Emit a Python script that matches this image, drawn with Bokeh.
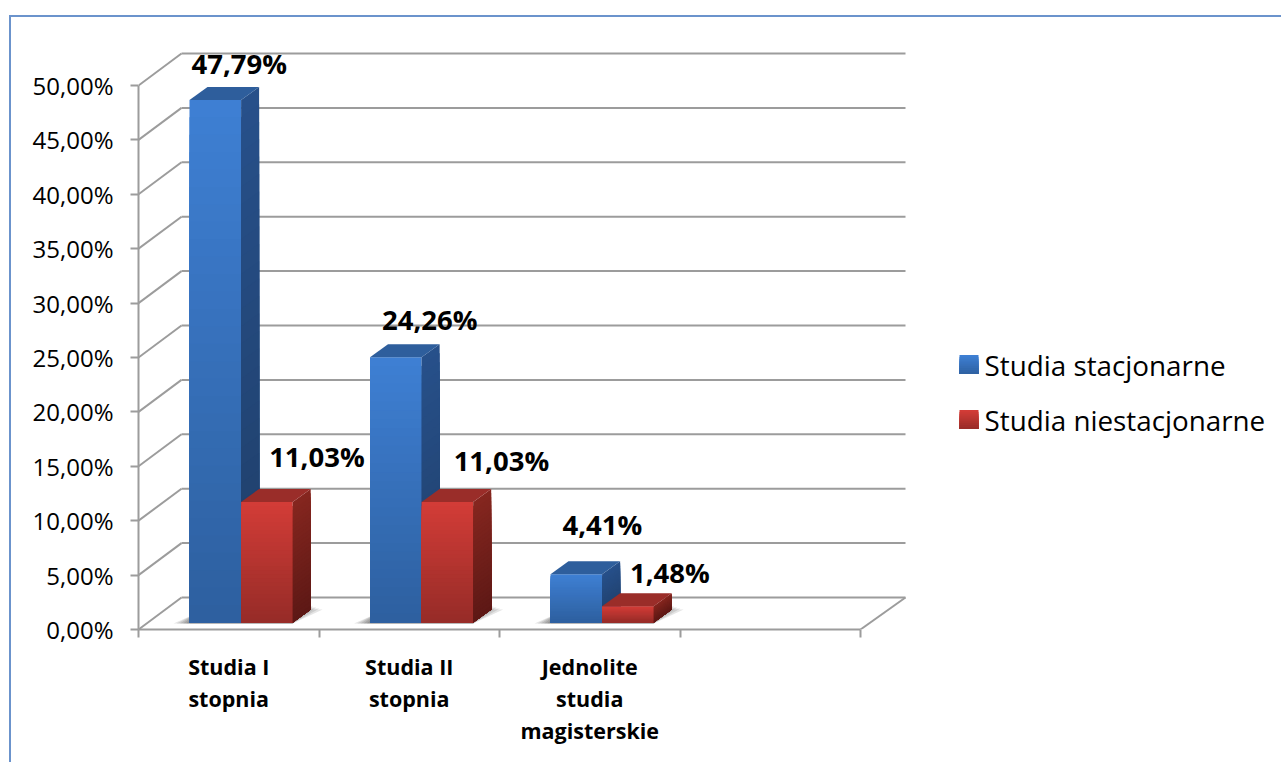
from bokeh.plotting import figure
from bokeh.models import Range1d, LinearAxis, FixedTicker
from bokeh.core.properties import value
from bokeh.embed import file_html
from bokeh.resources import INLINE

categories = ["Studia I\nstopnia", "Studia II\nstopnia", "Jednolite\nstudia\nmagisterskie"]
series_names = ["Studia stacjonarne", "Studia niestacjonarne"]
stacjonarne = [47.79, 24.26, 4.41]
niestacjonarne = [11.03, 11.03, 1.48]
y_ticks = [0, 5, 10, 15, 20, 25, 30, 35, 40, 45, 50]
y_tick_labels = ["0,00%", "5,00%", "10,00%", "15,00%", "20,00%", "25,00%", "30,00%", "35,00%", "40,00%", "45,00%", "50,00%"]
value_labels = [["47,79%", "24,26%", "4,41%"], ["11,03%", "11,03%", "1,48%"]]

# layout (pixels)
W, H = 1270, 745
FL, FB = 127, 133          # frame left / bottom margin
FW, FH = W - FL, H - FB
PX_X, PX_Y = 180.5, 10.88  # pixels per category / per percent
X_END = FW / PX_X
Y_END = FH / PX_Y
def dx(px): return px / PX_X
def dy(px): return px / PX_Y
FONT = "Open Sans"
GRID = "#9c9c9c"
BORDER = "#6b93cc"
WALL_DX, WALL_DY = dx(43), dy(32)
BAR_W = dx(51.6)
BAR_START = dx(51)
BAR_BASE = dy(7)
BAR_K = 1.005
DEPTH_X, DEPTH_Y = dx(18), dy(13)

# per-label offsets from the top-centre of the front face
LABEL_DX = [[24, 34, 26], [50, 54, 42]]
LABEL_DY = [[36, 38, 50], [45, 41, 34]]

p = figure(width=W, height=H, output_backend="svg", toolbar_location=None,
           x_range=Range1d(0, X_END), y_range=Range1d(0, Y_END),
           x_axis_type=None, y_axis_type=None,
           min_border_left=FL, min_border_right=0, min_border_top=0, min_border_bottom=FB,
           frame_width=FW, frame_height=FH, outline_line_color=None,
           margin=(15, 0, 0, 9),
           styles={"border-left": f"2px solid {BORDER}", "border-top": f"2px solid {BORDER}"})
p.grid.visible = False

def mix(a, b, t):
    ca = [int(a[i:i + 2], 16) for i in (1, 3, 5)]
    cb = [int(b[i:i + 2], 16) for i in (1, 3, 5)]
    return "#%02x%02x%02x" % tuple(round(u + (v - u) * t) for u, v in zip(ca, cb))

# axes
yaxis = LinearAxis(ticker=FixedTicker(ticks=y_ticks), bounds=(0, 50),
                   major_label_overrides=dict(zip(y_ticks, y_tick_labels)))
yaxis.major_label_text_font = FONT
yaxis.major_label_text_font_size = "24px"
yaxis.major_label_text_color = "#000000"
yaxis.axis_line_color = GRID
yaxis.axis_line_width = 2
yaxis.major_tick_line_color = GRID
yaxis.major_tick_line_width = 2
yaxis.major_tick_out = 8
yaxis.major_tick_in = 0
yaxis.minor_tick_line_color = None
yaxis.major_label_standoff = 17
p.add_layout(yaxis, "left")

cat_pos = [i + 0.5 for i in range(len(categories))]
xaxis = LinearAxis(ticker=FixedTicker(ticks=cat_pos, minor_ticks=[0, 1, 2, 3, 4]), bounds=(0, 4),
                   major_label_overrides=dict(zip(cat_pos, categories)))
xaxis.major_label_text_font = FONT
xaxis.major_label_text_font_size = "21.5px"
xaxis.major_label_text_font_style = "bold"
xaxis.major_label_text_color = "#000000"
xaxis.major_label_text_line_height = 1.12
xaxis.axis_line_color = GRID
xaxis.axis_line_width = 2
xaxis.major_tick_line_color = None
xaxis.major_tick_out = 0
xaxis.major_tick_in = 0
xaxis.minor_tick_line_color = GRID
xaxis.minor_tick_line_width = 2
xaxis.minor_tick_out = 8
xaxis.minor_tick_in = 0
xaxis.major_label_standoff = 14
p.add_layout(xaxis, "below")

# walls
gx0, gy0, gx1, gy1 = [], [], [], []
for t in y_ticks:
    gx0 += [0, WALL_DX]; gy0 += [t, t + WALL_DY]
    gx1 += [WALL_DX, 4 + dx(45)]; gy1 += [t + WALL_DY, t + WALL_DY]
p.segment(gx0, gy0, gx1, gy1, line_color=GRID, line_width=2)
p.segment([4], [0], [4 + dx(45)], [WALL_DY], line_color=GRID, line_width=2)

# soft floor shadows
for g, (a, b) in enumerate(zip(stacjonarne, niestacjonarne)):
    left = g + BAR_START
    right = left + 2 * BAR_W
    for k in range(6):
        grow = k * 3.2
        p.patch([left - dx(grow), right, right + dx(14 + grow), left + dx(16)],
                [BAR_BASE - dy(1), BAR_BASE - dy(1), BAR_BASE + dy(18 - k), BAR_BASE + dy(18 - k)],
                fill_color="#000000", fill_alpha=0.1, line_color=None)

# bars with gradient made from stacked slices
STYLES = [
    dict(front=("#3e7fd3", "#2d5f9e"), side=("#27508a", "#1f3e68"), top="#2e5e9c"),
    dict(front=("#d23c37", "#952b27"), side=("#85261f", "#5c1815"), top="#9a2d29"),
]
N = 30
for s, vals in enumerate([stacjonarne, niestacjonarne]):
    st = STYLES[s]
    for g, v in enumerate(vals):
        x0 = g + BAR_START + s * BAR_W
        x1 = x0 + BAR_W
        ytop = BAR_BASE + v * BAR_K
        # slices drawn tall to short, top colour to bottom colour, so no seams
        for i in range(N):
            t = i / N
            yt = ytop - (ytop - BAR_BASE) * t
            p.quad(left=x0, right=x1, bottom=BAR_BASE, top=yt,
                   fill_color=mix(*st["front"], t), line_color=None)
            p.patch([x1, x1 + DEPTH_X, x1 + DEPTH_X, x1],
                    [BAR_BASE, BAR_BASE + DEPTH_Y, yt + DEPTH_Y, yt],
                    fill_color=mix(*st["side"], t), line_color=None)
        p.patch([x0, x1, x1 + DEPTH_X, x0 + DEPTH_X],
                [ytop, ytop, ytop + DEPTH_Y, ytop + DEPTH_Y],
                fill_color=st["top"], line_color=None)

# value labels
for s, vals in enumerate([stacjonarne, niestacjonarne]):
    for g, v in enumerate(vals):
        xc = g + BAR_START + s * BAR_W + BAR_W / 2 + dx(LABEL_DX[s][g])
        yc = BAR_BASE + v * BAR_K + dy(LABEL_DY[s][g])
        p.text([xc], [yc], text=[value_labels[s][g]], text_font=value(FONT),
               text_font_size="27.5px", text_font_style="bold", text_color="#000000",
               text_align="center", text_baseline="middle")

# legend
LEG_X, LEG_S, LEG_TX = (959 - 138) / PX_X, 19, (984 - 138) / PX_X
LEG_Y = [(629 - 364) / PX_Y, (629 - 419) / PX_Y]
for s, name in enumerate(series_names):
    yc = LEG_Y[s]
    h = dy(LEG_S) / 2
    for i in range(10):
        t = i / 10
        p.quad(left=LEG_X, right=LEG_X + dx(LEG_S), bottom=yc - h, top=yc + h - 2 * h * t,
               fill_color=mix(*STYLES[s]["front"], t), line_color=None)
    p.text([LEG_TX], [yc], text=[name], text_font=value(FONT), text_font_size="27.8px",
           text_color="#000000", text_align="left", text_baseline="middle")

open("out.html", "w").write(file_html(p, INLINE))
